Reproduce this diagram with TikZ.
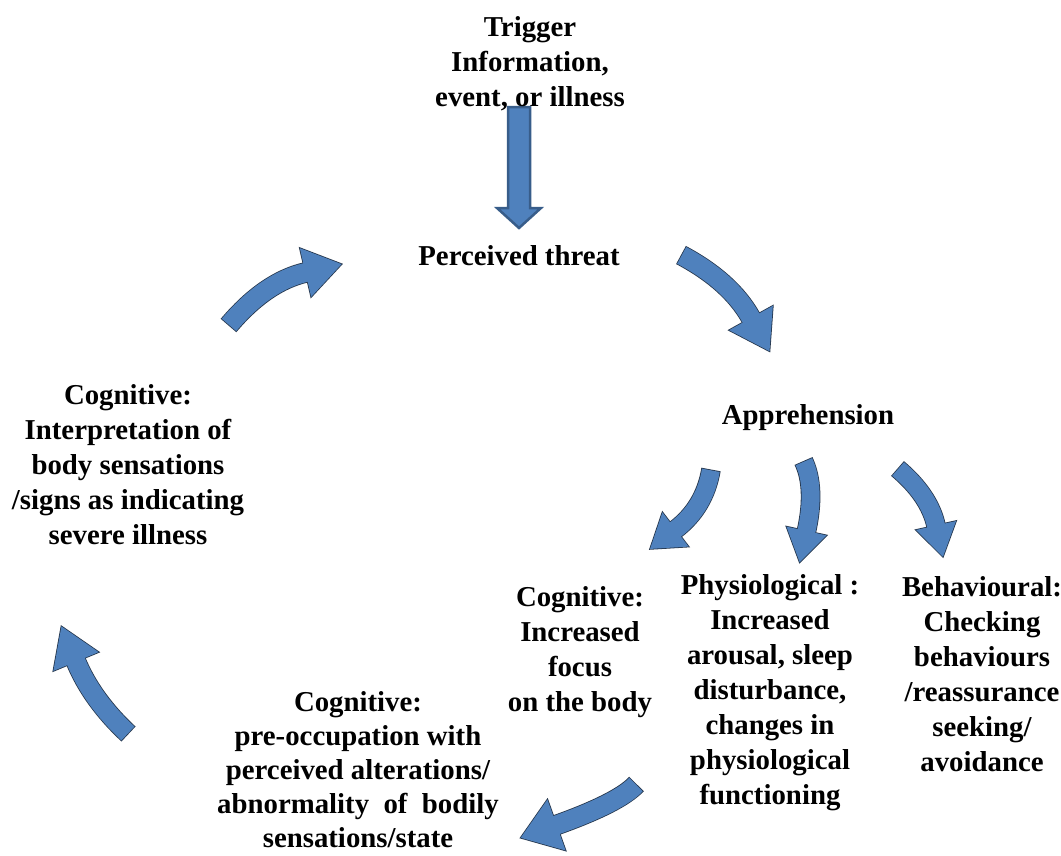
\documentclass[tikz,border=0pt]{standalone}
\usepackage{fontspec}
\setmainfont{Liberation Serif}
\usetikzlibrary{calc}

\definecolor{arrowblue}{HTML}{4F81BD}
\definecolor{arrowline}{HTML}{25364C}
\definecolor{downline}{HTML}{385D8A}

\tikzset{
  lbl/.style={align=center, inner sep=0pt, font=\fontsize{28.8}{35}\selectfont\bfseries},
  arrowedge/.style={draw=arrowline, line cap=butt},
  arrowbody/.style={draw=arrowblue, line cap=butt},
}

% curved block arrow (quadratic bend): tail, bend control, head base,
% shaft width, head half-width, head length
\newcommand\bendarrow[6]{%
  \coordinate (ta) at #1;
  \coordinate (ctl) at #2;
  \coordinate (hb) at #3;
  \coordinate (ca) at ($(ta)!2/3!(ctl)$);
  \coordinate (cb) at ($(hb)!2/3!(ctl)$);
  \coordinate (tip) at ($(hb)!-#6!(ctl)$);
  \coordinate (hl) at ($(hb)!#5!90:(ctl)$);
  \coordinate (hr) at ($(hb)!#5!-90:(ctl)$);
  \coordinate (hin) at ($(hb)!-4pt!(ctl)$);
  \draw[arrowedge, line width=#4+1.6pt] (ta) .. controls (ca) and (cb) .. (hb) -- (hin);
  \draw[arrowedge, line width=1.6pt, line join=miter] (hl) -- (tip) -- (hr) -- cycle;
  \draw[arrowbody, line width=#4, shorten <=0.8pt] (ta) .. controls (ca) and (cb) .. (hb) -- (hin);
  \fill[arrowblue] (hl) -- (tip) -- (hr) -- cycle;
}

\begin{document}
\begin{tikzpicture}[x=1pt, y=-1pt]
\useasboundingbox (0,0) rectangle (1061,855);

% straight arrow from the trigger down to the perceived threat
\draw[fill=arrowblue, draw=downline, line width=2.5pt, line join=miter]
  (508,107) -- (530,107) -- (530,208) -- (541,208) -- (519,228)
  -- (497,208) -- (508,208) -- cycle;

% the cycle of curved arrows
\bendarrow{(681,255)}{(730.6,281.4)}{(751,318)}{19pt}{25pt}{38pt}
\bendarrow{(636.5,784)}{(619.3,802.6)}{(556.5,825)}{19pt}{27pt}{38pt}
\bendarrow{(128.5,734)}{(92,700)}{(76,661.5)}{19pt}{24.5pt}{38pt}
\bendarrow{(228.5,325.5)}{(265.5,281.8)}{(305.5,272.5)}{19pt}{25pt}{37pt}

% arrows fanning out from apprehension
\bendarrow{(711,469.5)}{(704.7,507.2)}{(675.5,529.5)}{18pt}{21.5pt}{32pt}
\bendarrow{(803.5,461)}{(816,487.5)}{(806.5,531)}{18pt}{20.5pt}{32pt}
\bendarrow{(897.5,468.5)}{(929.3,495.4)}{(936,525.5)}{18pt}{20.5pt}{32pt}

% labels
\node[lbl] (trigger) at (530,64) {Trigger\\Information,\\event, or illness};
\node[lbl] (threat) at (519,256) {Perceived threat};
\node[lbl] (appr) at (808,418) {Apprehension};
\node[lbl] (interp) at (128,465) {Cognitive:\\Interpretation of\\body sensations\\/signs as indicating\\severe illness};
\node[lbl] (focus) at (580,652) {Cognitive:\\Increased\\focus\\on the body};
\node[lbl] (physio) at (770,693) {Physiological :\\Increased\\arousal, sleep\\disturbance,\\changes in\\physiological\\functioning};
\node[lbl] (behav) at (982,674) {Behavioural:\\Checking\\behaviours\\/reassurance\\seeking/\\avoidance};
\node[lbl, font=\fontsize{28.8}{34}\selectfont\bfseries] (preocc) at (358,770)
  {Cognitive:\\pre-occupation with\\perceived alterations/\\abnormality\ \ of\ \ bodily\\sensations/state};
\end{tikzpicture}
\end{document}
